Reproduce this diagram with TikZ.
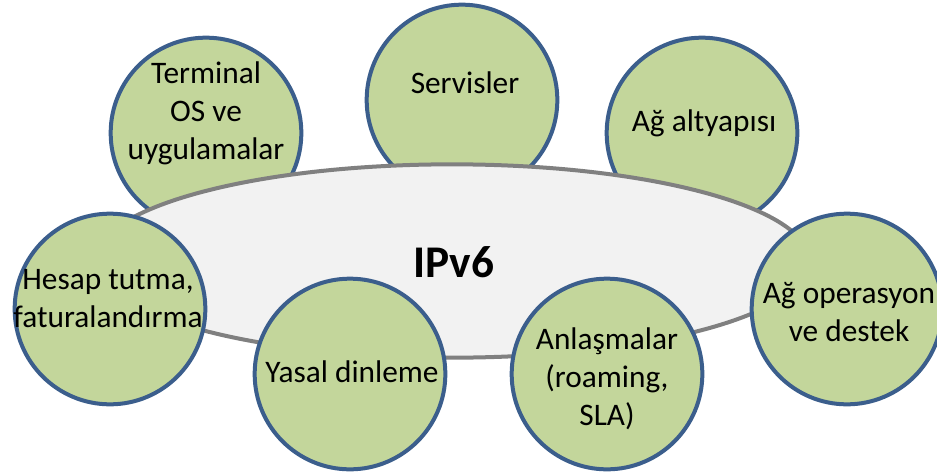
\documentclass[tikz,border=0pt]{standalone}
\usepackage{fontspec}
\setmainfont{Carlito}
\usetikzlibrary{shapes.geometric}
\definecolor{bubfill}{HTML}{C3D69B}
\definecolor{bubline}{HTML}{3B5E8C}
\definecolor{ellfill}{HTML}{F2F2F2}
\definecolor{ellline}{HTML}{808080}
\tikzset{
  bubble/.style={circle, draw=bubline, fill=bubfill, line width=3pt, minimum size=143pt, inner sep=0pt},
  core/.style={ellipse, draw=ellline, fill=ellfill, line width=3pt, minimum width=536pt, minimum height=145pt, inner sep=0pt},
  btext/.style={align=center, font=\fontsize{23.5}{28.5}\selectfont, inner sep=0pt},
  ctext/.style={font=\fontsize{34}{40}\selectfont\bfseries, inner sep=0pt}
}
\begin{document}
\begin{tikzpicture}[x=0.75pt,y=-0.75pt]
\useasboundingbox (0,0) rectangle (937,474);
% top circles (behind ellipse)
\node[bubble] (term) at (206,133) {};
\node[bubble] (serv) at (462,100) {};
\node[bubble] (altyapi) at (702,133) {};
% central ellipse
\node[core] (ipv6) at (452,261) {};
% bottom circles (in front)
\node[bubble] (hesap) at (110,309) {};
\node[bubble] (yasal) at (350,374) {};
\node[bubble] (anlas) at (607,374) {};
\node[bubble] (oper) at (847,309) {};
% texts
\node[btext] (tterm) at (206,113) {Terminal\\OS ve\\uygulamalar};
\node[btext] (tserv) at (465,83) {Servisler};
\node[btext] (taltyapi) at (704,123) {Ağ altyapısı};
\node[ctext] (tipv6) at (454,262) {IPv6};
\node[btext] (thesap) at (108,299) {Hesap tutma,\\faturalandırma};
\node[btext] (tyasal) at (352,372) {Yasal dinleme};
\node[btext] (tanlas) at (607,379) {Anlaşmalar\\(roaming,\\SLA)};
\node[btext] (toper) at (849,312) {Ağ operasyon\\ve destek};
\end{tikzpicture}
\end{document}
